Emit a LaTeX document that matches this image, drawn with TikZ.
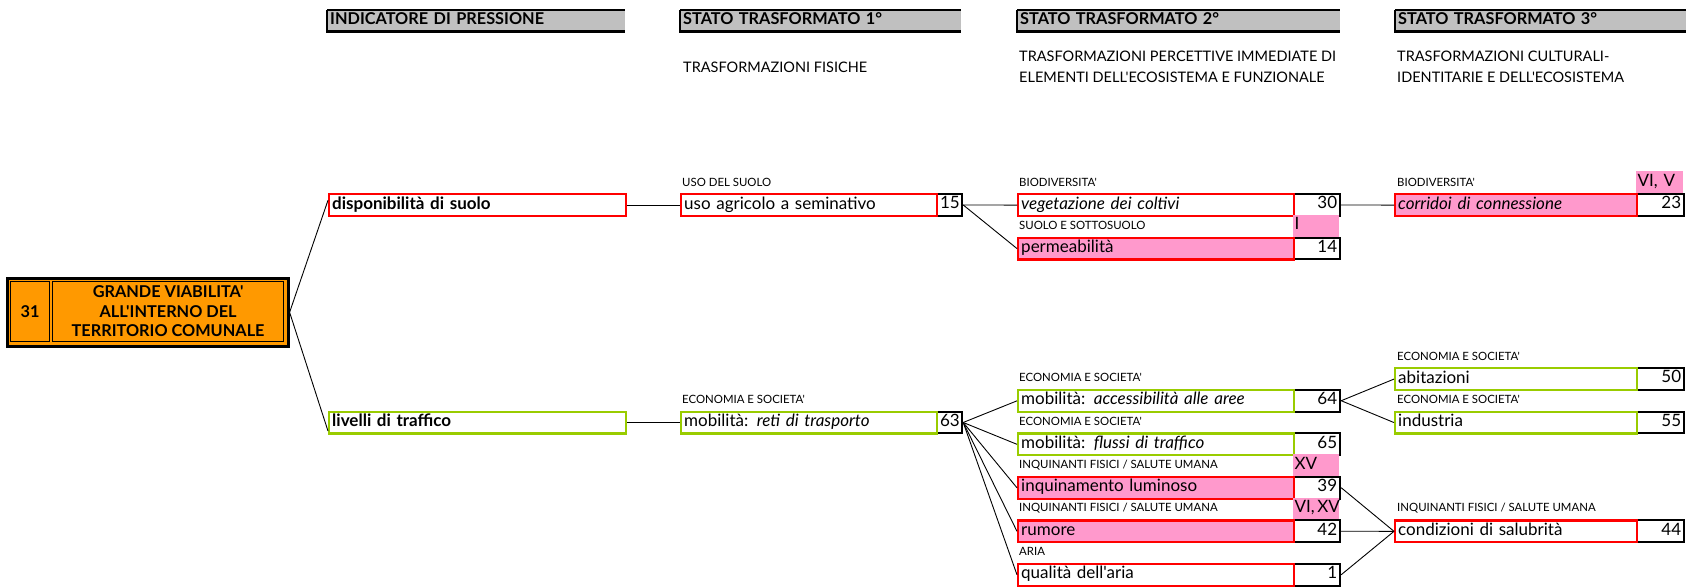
\documentclass[tikz,border=0pt]{standalone}
\usepackage{fontspec}
\setmainfont{Lato}[Ligatures=TeXOff]
\usetikzlibrary{calc}
\definecolor{xred}{HTML}{FF0000}
\definecolor{xgreen}{HTML}{99CC00}
\definecolor{xpink}{HTML}{FF99CC}
\definecolor{xorange}{HTML}{FF9900}
\definecolor{xgray}{HTML}{C0C0C0}
\newcommand{\bxf}{\fontsize{17}{19}\selectfont}
\newcommand{\lbf}{\fontsize{11.4}{13}\selectfont}
\newcommand{\hdf}{\fontsize{16.3}{19}\selectfont\bfseries}
\newcommand{\sbf}{\fontsize{14.5}{20.5}\selectfont}
\begin{document}
\begin{tikzpicture}[x=1pt,y=-1pt,
  tb/.style={anchor=north west, minimum height=21.75pt, inner xsep=3pt, inner ysep=0pt,
    line width=2.4pt, align=left, font=\bxf, text height=12pt, text depth=4pt},
  wA/.style={text width=291pt},
  wB/.style={text width=250pt},
  wC/.style={text width=270pt},
  wD/.style={text width=236pt},
  redb/.style={tb, draw=xred},
  greenb/.style={tb, draw=xgreen},
  pinkf/.style={fill=xpink},
  nb/.style={anchor=north west, draw=black, line width=2.2pt, minimum height=21.75pt,
    inner xsep=3pt, inner ysep=0pt, align=right, font=\bxf, text height=12pt, text depth=4pt},
  nB/.style={text width=19pt},
  nC/.style={text width=40pt},
  nD/.style={text width=41pt},
  lab/.style={anchor=west, inner sep=0pt, font=\lbf},
  tagbox/.style={anchor=north west, fill=xpink, minimum height=21.75pt, inner xsep=1.5pt,
    inner ysep=0pt, align=left, font=\bxf, text height=12pt, text depth=4pt},
  hdr/.style={anchor=north west, fill=xgray, minimum height=21pt, inner xsep=3pt,
    inner ysep=0pt, align=left, font=\hdf, text height=12pt, text depth=3.5pt},
  sub/.style={anchor=west, inner sep=0pt, align=left, font=\sbf},
  link/.style={line width=0.9pt}
]
\useasboundingbox (0,0) rectangle (1689,588);

% ---------- headers ----------
\node[hdr, text width=292pt] (h1) at (327,10) {INDICATORE DI PRESSIONE};
\node[hdr, text width=275pt] (h2) at (680,10) {STATO TRASFORMATO 1°};
\node[hdr, text width=317pt] (h3) at (1017,10) {STATO TRASFORMATO 2°};
\node[hdr, text width=285pt] (h4) at (1395,10) {STATO TRASFORMATO 3°};
\foreach \h in {h1,h2,h3,h4}{
  \draw[line width=1.2pt] (\h.north west) -- (\h.north east);
  \draw[line width=2.6pt] (\h.north west) -- (\h.south west) -- (\h.south east);
}
\node[sub] (s2) at (683,67) {TRASFORMAZIONI FISICHE};
\node[sub] (s3) at (1019,67) {TRASFORMAZIONI PERCETTIVE IMMEDIATE DI\\ELEMENTI DELL'ECOSISTEMA E FUNZIONALE};
\node[sub] (s4) at (1397,67) {TRASFORMAZIONI CULTURALI-\\IDENTITARIE E DELL'ECOSISTEMA};

% ---------- main box ----------
\node[anchor=north west, draw=black, fill=xorange, line width=2.6pt, minimum width=281pt,
  minimum height=68pt, inner sep=0pt] (main) at (6,277) {};
\node[anchor=north west, draw=black, line width=1.2pt, minimum width=39pt, minimum height=60pt,
  inner sep=0pt, font=\hdf] (c31) at (10,281) {31};
\node[anchor=north west, draw=black, line width=1.2pt, minimum width=231pt, minimum height=60pt,
  inner sep=0pt, align=center, font={\fontsize{16.3}{19.5}\selectfont\bfseries}] (ctitle) at (52,281)
  {GRANDE VIABILITA'\\ALL'INTERNO DEL\\TERRITORIO COMUNALE};

% ---------- level A ----------
\node[redb, wA, font=\bxf\bfseries] (disp) at (328,193) {disponibilità di suolo};
\node[greenb, wA, font=\bxf\bfseries] (livelli) at (328,410.5) {livelli di traffico};

% ---------- level B ----------
\node[nb, nB] (n15) at (936,193) {15};
\node[redb, wB] (uso) at (680,193) {uso agricolo a seminativo};
\node[lab] (luso) at (682,182.1) {USO DEL SUOLO};

\node[nb, nB] (n63) at (936,410.5) {63};
\node[greenb, wB] (reti) at (680,410.5) {mobilità: \textit{reti di trasporto}};
\node[lab] (lreti) at (682,399.6) {ECONOMIA E SOCIETA'};

% ---------- level C ----------
\node[nb, nC] (n30) at (1293,193) {30};
\node[redb, wC] (veg) at (1017,193) {\textit{vegetazione dei coltivi}};
\node[lab] (lveg) at (1019,182.1) {BIODIVERSITA'};

\node[tagbox, text width=43pt] (tI) at (1293,214.75) {I};
\node[nb, nC] (n14) at (1293,236.5) {14};
\node[redb, wC, pinkf] (perm) at (1017,236.5) {permeabilità};
\node[lab] (lperm) at (1019,225.6) {SUOLO E SOTTOSUOLO};

\node[nb, nC] (n64) at (1293,388.75) {64};
\node[greenb, wC] (access) at (1017,388.75) {mobilità: \textit{accessibilità alle aree}};
\node[lab] (laccess) at (1019,377.9) {ECONOMIA E SOCIETA'};

\node[nb, nC] (n65) at (1293,432.25) {65};
\node[greenb, wC] (flussi) at (1017,432.25) {mobilità: \textit{flussi di traffico}};
\node[lab] (lflussi) at (1019,421.4) {ECONOMIA E SOCIETA'};

\node[tagbox, text width=43pt] (tXV) at (1293,454) {XV};
\node[nb, nC] (n39) at (1293,475.75) {39};
\node[redb, wC, pinkf] (lumin) at (1017,475.75) {inquinamento luminoso};
\node[lab] (llumin) at (1019,464.9) {INQUINANTI FISICI / SALUTE UMANA};

\node[tagbox, text width=43pt] (tVIXV) at (1293,497.5) {\mbox{VI,\kern2.5pt XV}};
\node[nb, nC] (n42) at (1293,519.25) {42};
\node[redb, wC, pinkf] (rumore) at (1017,519.25) {rumore};
\node[lab] (lrumore) at (1019,508.4) {INQUINANTI FISICI / SALUTE UMANA};

\node[nb, nC] (n1) at (1293,562.75) {1};
\node[redb, wC] (aria) at (1017,562.75) {qualità dell'aria};
\node[lab] (laria) at (1019,551.9) {ARIA};

% ---------- level D ----------
\node[tagbox, text width=44pt] (tVIV) at (1636,171.25) {\mbox{VI, V}};
\node[nb, nD] (n23) at (1636,193) {23};
\node[redb, wD, pinkf] (corr) at (1394,193) {\textit{corridoi di connessione}};
\node[lab] (lcorr) at (1397,182.1) {BIODIVERSITA'};

\node[nb, nD] (n50) at (1636,367) {50};
\node[greenb, wD] (abit) at (1394,367) {abitazioni};
\node[lab] (labit) at (1397,356.1) {ECONOMIA E SOCIETA'};

\node[nb, nD] (n55) at (1636,410.5) {55};
\node[greenb, wD] (indus) at (1394,410.5) {industria};
\node[lab] (lindus) at (1397,399.6) {ECONOMIA E SOCIETA'};

\node[nb, nD] (n44) at (1636,519.25) {44};
\node[redb, wD] (salub) at (1394,519.25) {condizioni di salubrità};
\node[lab] (lsalub) at (1397,508.4) {INQUINANTI FISICI / SALUTE UMANA};

% ---------- connectors ----------
\draw[link] (main.east) -- ($(disp.north west)!0.3!(disp.south west)$);
\draw[link] (main.east) -- ($(livelli.north west)!0.85!(livelli.south west)$);
\draw[link] (disp.east) -- (uso.west);
\draw[link] (livelli.east) -- (reti.west);
\draw[link] (n15.east) -- (veg.west);
\draw[link] (n15.east) -- (perm.west);
\draw[link] (n30.east) -- (corr.west);
\foreach \t in {access,flussi,lumin,rumore,aria}{
  \draw[link] (n63.east) -- (\t.west);
}
\draw[link] (n64.east) -- (abit.west);
\draw[link] (n64.east) -- (indus.west);
\draw[link] (n39.east) -- (salub.west);
\draw[link] (n42.east) -- (salub.west);
\draw[link] (n1.east) -- (salub.west);
\end{tikzpicture}
\end{document}
